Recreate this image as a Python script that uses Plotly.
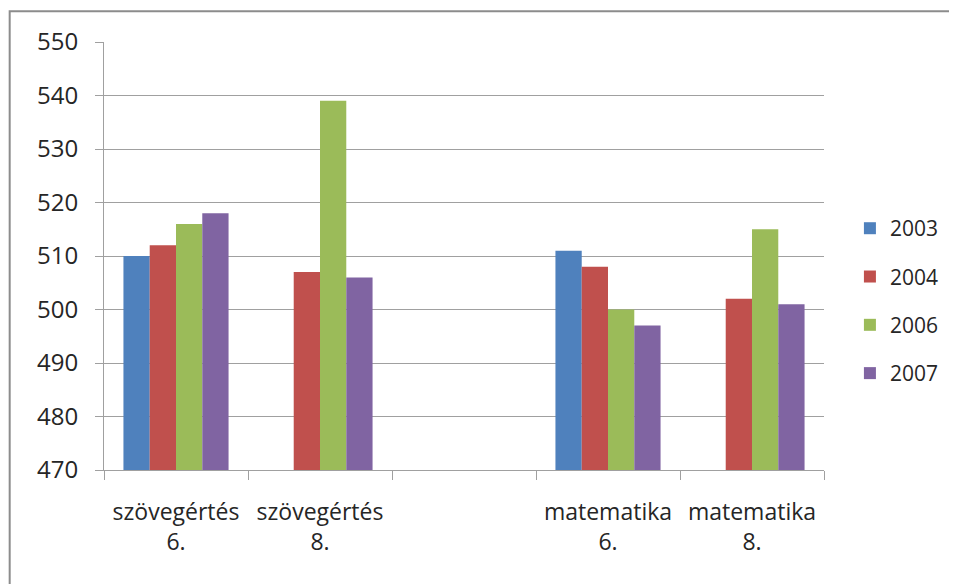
import plotly.graph_objects as go

categories = ["szövegértés<br>6.", "szövegértés<br>8.", " ", "matematika<br>6.", "matematika<br>8."]
years = ["2003", "2004", "2006", "2007"]
v2003 = [510, None, None, 511, None]
v2004 = [512, 507, None, 508, 502]
v2006 = [516, 539, None, 500, 515]
v2007 = [518, 506, None, 497, 501]
colors = ["#4F81BD", "#C0504D", "#9BBB59", "#8064A2"]
y_ticks = [470, 480, 490, 500, 510, 520, 530, 540, 550]

FONT = "'Open Sans', Lato, sans-serif"
TXT = "#262626"
fig = go.Figure()
for name, vals, col in zip(years, [v2003, v2004, v2006, v2007], colors):
    fig.add_trace(go.Bar(x=categories, y=vals, name=name, marker_color=col,
                         marker_line_width=0, legendgroup=name))

fig.update_layout(
    width=949, height=576,
    margin=dict(l=96, r=133, t=34, b=114),
    paper_bgcolor="white", plot_bgcolor="white",
    barmode="group", bargap=0.27, bargroupgap=0,
    font=dict(family=FONT, size=21, color=TXT),
    showlegend=True,
    legend=dict(x=1.036, y=0.612, xanchor="left", yanchor="top",
                font=dict(size=21, color=TXT),
                traceorder="grouped", tracegroupgap=18,
                itemwidth=30),
    xaxis=dict(type="category", categoryorder="array", categoryarray=categories,
               showline=True, linecolor="#A0A0A0", linewidth=1,
               ticks="outside", ticklen=9, tickcolor="#A0A0A0",
               tickson="boundaries", showgrid=False,
               tickfont=dict(size=23, color=TXT),
               ticklabelstandoff=21),
    yaxis=dict(range=[470, 550], tickvals=y_ticks,
               showline=True, linecolor="#A0A0A0", linewidth=1,
               ticks="outside", ticklen=8, tickcolor="#A0A0A0",
               showgrid=True, gridcolor="#A0A0A0", gridwidth=1,
               zeroline=False, tickfont=dict(size=24, color=TXT),
               ticklabelstandoff=12),
    shapes=[dict(type="rect", xref="paper", yref="paper",
                 x0=-0.131, x1=1.25, y0=-0.4, y1=1.072,
                 line=dict(color="#8C8C8C", width=2), fillcolor="rgba(0,0,0,0)")],
)

fig.write_html("out.html")
